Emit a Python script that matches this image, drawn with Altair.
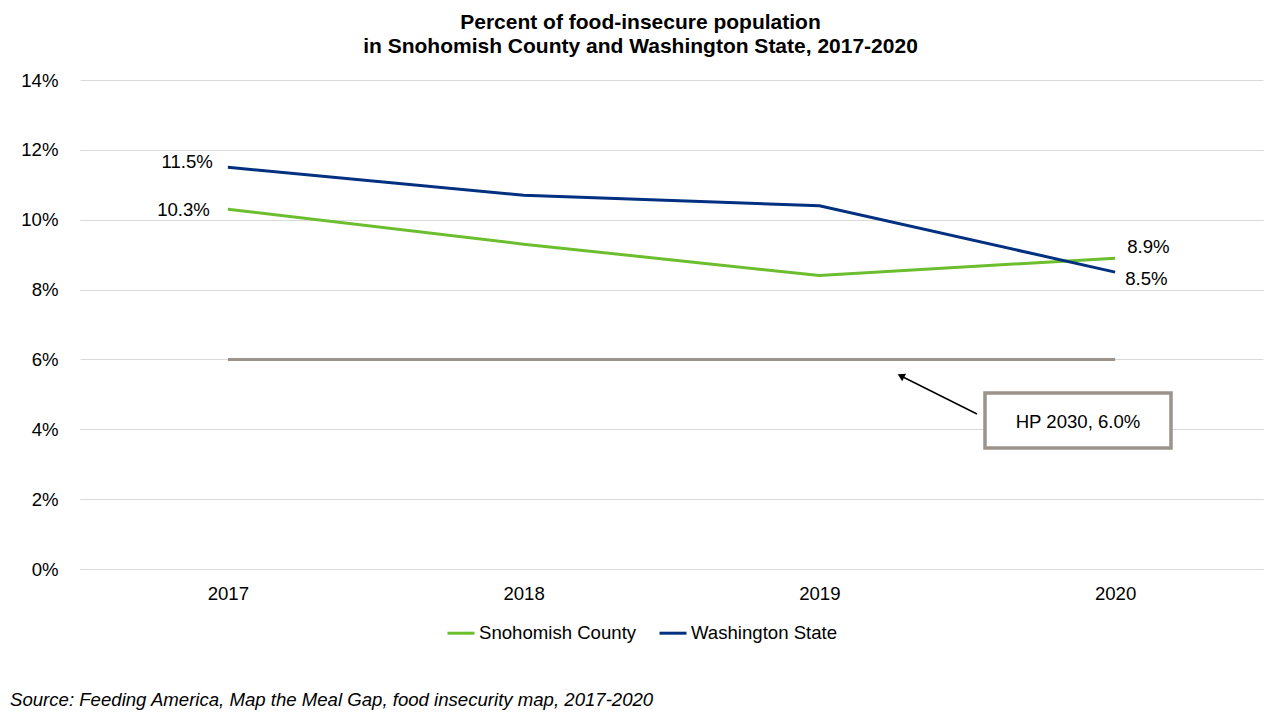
import altair as alt
import pandas as pd

years = ["2017", "2018", "2019", "2020"]
snohomish = [10.3, 9.3, 8.4, 8.9]
washington = [11.5, 10.7, 10.4, 8.5]
hp_target = [6.0, 6.0, 6.0, 6.0]
series_names = ["Snohomish County", "Washington State"]
series_colors = ["#6BBE2D", "#00307F"]
y_ticks = [0, 2, 4, 6, 8, 10, 12, 14]

FONT = "Liberation Sans"
FS = 18.6

rows = []
for y, v in zip(years, snohomish):
    rows.append({"year": y, "series": series_names[0], "value": v})
for y, v in zip(years, washington):
    rows.append({"year": y, "series": series_names[1], "value": v})
df = pd.DataFrame(rows)
df["label"] = df["value"].map(lambda v: f"{v:.1f}%")

hp_df = pd.DataFrame({"year": years, "value": hp_target})
one = pd.DataFrame({"k": [0]})

x_enc = alt.X("year:O", scale=alt.Scale(type="point", padding=0.5), sort=years,
              axis=alt.Axis(title=None, labelAngle=0, domain=False, ticks=False,
                            labelPadding=15, labelFontSize=FS, labelColor="#000000",
                            labelFont=FONT, grid=False))
y_enc = alt.Y("value:Q", scale=alt.Scale(domain=[0, 14], nice=False),
              axis=alt.Axis(title=None, values=y_ticks, labelExpr="datum.value + '%'",
                            domain=False, ticks=False, labelPadding=22,
                            labelFontSize=FS, labelColor="#000000", labelFont=FONT,
                            grid=True, gridColor="#D9D9D9", gridWidth=1))

hp_line = alt.Chart(hp_df).mark_line(color="#9C948C", strokeWidth=3).encode(x=x_enc, y=y_enc)

lines = alt.Chart(df).mark_line(strokeWidth=3).encode(
    x=x_enc, y=y_enc,
    color=alt.Color("series:N", scale=alt.Scale(domain=series_names, range=series_colors),
                    legend=alt.Legend(title=None, orient="none", legendX=366, legendY=538,
                                      direction="horizontal", symbolType="stroke",
                                      symbolSize=729, symbolStrokeWidth=3,
                                      labelFontSize=FS, labelFont=FONT, labelColor="#000000",
                                      labelOffset=3, columnPadding=16)),
)

def lab(year, series, align, dx, dy):
    return alt.Chart(df).transform_filter(
        (alt.datum.year == year) & (alt.datum.series == series)
    ).mark_text(align=align, baseline="middle", dx=dx, dy=dy, fontSize=FS, font=FONT,
                color="#000000").encode(x=x_enc, y=y_enc, text="label:N")

labels = [
    lab("2017", series_names[1], "right", -15, -5),
    lab("2017", series_names[0], "right", -18, 1),
    lab("2020", series_names[0], "left", 12, -11),
    lab("2020", series_names[1], "left", 10, 7),
]

box = alt.Chart(one).mark_rect(fill="#FFFFFF", stroke="#9C948C", strokeWidth=3.5).encode(
    x=alt.value(905), x2=alt.value(1091), y=alt.value(313), y2=alt.value(368))
box_text = alt.Chart(one).mark_text(text="HP 2030, 6.0%", fontSize=FS, font=FONT,
                                    color="#000000", align="center", baseline="middle").encode(
    x=alt.value(998), y=alt.value(342))
arrow = alt.Chart(one).mark_rule(color="#000000", strokeWidth=1.5).encode(
    x=alt.value(897), x2=alt.value(823), y=alt.value(334), y2=alt.value(297))
arrow_head = alt.Chart(one).mark_point(shape="triangle", filled=True, color="#000000",
                                       size=70, angle=297, opacity=1).encode(
    x=alt.value(822), y=alt.value(296.5))

source = alt.Chart(one).mark_text(
    text="Source: Feeding America, Map the Meal Gap, food insecurity map, 2017-2020",
    fontSize=FS, font=FONT, fontStyle="italic", color="#000000", align="left",
    baseline="middle").encode(x=alt.value(-70), y=alt.value(620))

chart = alt.layer(hp_line, lines, *labels, box, arrow, arrow_head, box_text, source).properties(
    width=1183, height=489,
    title=alt.TitleParams(
        text=["Percent of food-insecure population",
              "in Snohomish County and Washington State, 2017-2020"],
        fontSize=21, font=FONT, fontWeight="bold", color="#000000",
        anchor="middle", frame="group", dx=-31, offset=14, lineHeight=24),
    autosize=alt.AutoSizeParams(type="none"),
    padding={"left": 72, "top": 72, "right": 9, "bottom": 143},
).configure(font=FONT, background="#FFFFFF").configure_view(stroke=None)

chart.save("out.html", embed_options={"renderer": "svg", "actions": False})
